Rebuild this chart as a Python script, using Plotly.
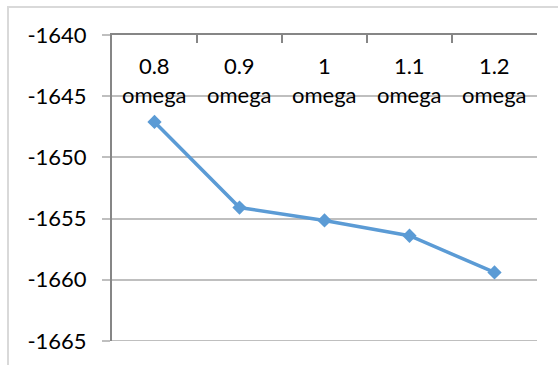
import plotly.graph_objects as go

# Category labels and energy values per omega scaling
categories = ["0.8<br>omega", "0.9<br>omega", "1<br>omega", "1.1<br>omega", "1.2<br>omega"]
values = [-1647.1, -1654.1, -1655.15, -1656.4, -1659.4]
y_ticks = [-1665, -1660, -1655, -1650, -1645, -1640]
y_min, y_max = -1665, -1640

FONT = "Lato"
FONT_SIZE = 22
LINE_BLUE = "#5B9BD5"
AXIS_GRAY = "#868686"
GRID_GRAY = "#BFBFBF"

fig = go.Figure()
fig.add_trace(go.Scatter(
    x=categories,
    y=values,
    mode="lines+markers",
    line=dict(color=LINE_BLUE, width=3.5),
    marker=dict(symbol="diamond", size=11, color=LINE_BLUE),
    showlegend=False,
    cliponaxis=False,
))

# Category labels sit just under the top axis line, inside the plot area
annotations = [
    dict(
        x=c, y=1, xref="x", yref="paper",
        text=c, showarrow=False,
        xanchor="center", yanchor="top", yshift=-15,
        font=dict(family=FONT, size=FONT_SIZE, color="black"),
    )
    for c in categories
]

fig.update_layout(
    width=558,
    height=365,
    margin=dict(l=112, r=21, t=35, b=24),
    paper_bgcolor="white",
    plot_bgcolor="white",
    font=dict(family=FONT, size=FONT_SIZE, color="black"),
    xaxis=dict(
        type="category",
        side="top",
        showline=True,
        linecolor=AXIS_GRAY,
        linewidth=2,
        ticks="inside",
        ticklen=8,
        tickwidth=2,
        tickcolor=AXIS_GRAY,
        tickson="boundaries",
        showticklabels=False,
        showgrid=False,
        zeroline=False,
        range=[-0.5, 4.5],
        fixedrange=True,
    ),
    yaxis=dict(
        range=[y_min - 0.001, y_max + 0.001],
        tickvals=y_ticks,
        ticktext=[str(v) for v in y_ticks],
        showline=True,
        linecolor=AXIS_GRAY,
        linewidth=2,
        ticks="outside",
        ticklen=8,
        tickwidth=2,
        tickcolor=GRID_GRAY,
        showgrid=True,
        gridcolor=GRID_GRAY,
        gridwidth=2,
        zeroline=False,
        ticklabelstandoff=11,
        tickfont=dict(family=FONT, size=FONT_SIZE, color="black"),
        fixedrange=True,
    ),
    annotations=annotations,
    shapes=[
        # bottom gridline at the lower end of the value axis
        dict(
            type="line",
            xref="paper", yref="y",
            x0=0, x1=1, y0=y_min, y1=y_min,
            line=dict(color=GRID_GRAY, width=2),
            layer="above",
        ),
        # outer chart frame, running past the bottom and right page edges
        dict(
            type="rect",
            xref="paper", yref="paper",
            x0=(8 - 112) / 425, x1=1.2,
            y0=-0.3, y1=(341 - 7) / 306,
            line=dict(color="#D9D9D9", width=2),
            fillcolor="rgba(0,0,0,0)",
            layer="below",
        ),
    ],
)

fig.write_html("out.html")
